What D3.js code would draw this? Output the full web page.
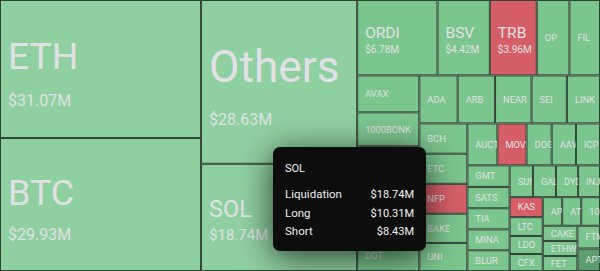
<!DOCTYPE html>
<html><head><meta charset="utf-8">
<script src="https://cdn.jsdelivr.net/npm/d3@7"></script>
<style>
html,body{margin:0;padding:0;background:#fff;overflow:hidden}
svg{display:block}
</style></head><body>
<svg id="chart" width="600" height="271"></svg>
<script>
// Coins in the treemap (sorted by liquidation, in $M)
const coins = ["ETH","BTC","Others","SOL","ORDI","BSV","TRB","OP","FIL","AVAX","1000BONK","XRP","MATIC","WLD","DOT",
  "ADA","ARB","NEAR","SEI","LINK","BCH","ETC","NFP","BAKE","UNI","AUCTION","MOVR","DOGE","AAVE","ICP",
  "GMT","SATS","TIA","MINA","BLUR","SUI","GALA","DYDX","INJ","KAS","LTC","LDO","CFX","APE","ATOM","1000PEPE",
  "CAKE","ETHW","FET","FTM","APT"];
const liquidation = [31.07,29.93,28.63,18.74,6.78,4.42,3.96,2.76,2.58,2.57,2.36,2.24,2.18,2.14,2.12,
  2.06,2.01,1.96,1.90,1.78,1.63,1.62,1.61,1.57,1.51,1.41,1.37,1.18,1.14,1.13,
  1.02,1.01,1.00,0.99,0.98,0.83,0.82,0.79,0.78,0.74,0.70,0.67,0.63,0.62,0.61,0.60,
  0.59,0.585,0.58,0.575,0.57];
// dominant side category: "long" (green), "short" (red); shade group
const side = ["longHi","longHi","longHi","longHi","long","long","short","long","long","long","long","long","long","long","long",
  "long","long","long","long","long","long","long","short","long","long","long","short","long","long","long",
  "long","long","long","long","long","long","long","long","long","short","long","long","long","long","long","long",
  "long","long","long","long","longMax"];
// Tooltip content (hovered: SOL)
const tipCoin = "SOL";
const tipRows = ["Liquidation","Long","Short"];
const tipValues = [18.74,10.31,8.43];

const W = 600, H = 271;
const svg = d3.select("#chart");
const color = d3.scaleOrdinal()
  .domain(["longHi","long","longMax","short"])
  .range(["#8fd0a1","#7bc68d","#5d9e6e","#d65f67"]);
const fmt = v => "$" + d3.format(".2f")(v) + "M";
const font = "Roboto, 'Noto Sans', sans-serif";

const data = coins.map((c,i)=>({name:c, value:liquidation[i], side:side[i]}));
const root = d3.hierarchy({children:data}).sum(d=>d.value||0).sort((a,b)=>b.value-a.value);
d3.treemap().size([W,H]).tile(d3.treemapSquarify).round(false)(root);
const leaves = root.leaves();

const defs = svg.append("defs");
const f = defs.append("filter").attr("id","shadow").attr("x","-60%").attr("y","-60%").attr("width","220%").attr("height","220%");
f.append("feDropShadow").attr("dx",0).attr("dy",6).attr("stdDeviation",17).attr("flood-color","#000").attr("flood-opacity",0.72);

const g = svg.append("g").selectAll("g").data(leaves).join("g");
g.append("clipPath").attr("id",(d,i)=>"c"+i).append("rect")
  .attr("x",d=>d.x0).attr("y",d=>d.y0).attr("width",d=>d.x1-d.x0).attr("height",d=>d.y1-d.y0);
g.append("rect")
  .attr("x",d=>d.x0+0.5).attr("y",d=>d.y0+0.5)
  .attr("width",d=>Math.max(0,d.x1-d.x0-1)).attr("height",d=>Math.max(0,d.y1-d.y0-1))
  .attr("fill",d=>color(d.data.side))
  .attr("stroke","#2e4236").attr("stroke-width",1);

function nameSize(d){ const h=d.y1-d.y0; if(d.value>=25) return h*0.27; if(d.value>=10) return 23.5; if(d.value>=3) return 15.5; return 9.3; }
function valSize(d){ if(d.value>=25) return 16; if(d.value>=10) return 15; return 10; }

const lab = g.append("g").attr("clip-path",(d,i)=>"url(#c"+i+")")
  .attr("fill","#e0e0e6").attr("font-family",font);
lab.append("text")
  .attr("x",d=>d.x0+8)
  .attr("y",d=>{const cy=(d.y0+d.y1)/2, fs=nameSize(d); return d.value>=3 ? cy : cy+fs*0.355;})
  .attr("font-size",d=>nameSize(d))
  .text(d=>d.data.name);
lab.filter(d=>d.value>=3).append("text")
  .attr("x",d=>d.x0+8)
  .attr("y",d=>(d.y0+d.y1)/2 + nameSize(d)*0.98)
  .attr("font-size",d=>valSize(d))
  .text(d=>fmt(d.value));

// Tooltip
const tip = svg.append("g").attr("transform","translate(273,147)").attr("font-family",font);
tip.append("rect").attr("width",153).attr("height",104).attr("rx",7)
  .attr("fill","#0a0a0e").attr("filter","url(#shadow)");
tip.append("text").attr("x",12).attr("y",25).attr("font-size",11).attr("fill","#f2f2f2").text(tipCoin);
tipRows.forEach((r,i)=>{
  tip.append("text").attr("x",12).attr("y",51+i*18.7).attr("font-size",11.5).attr("fill","#eeeeee").text(r);
  tip.append("text").attr("x",141).attr("y",51+i*18.7).attr("font-size",11).attr("text-anchor","end").attr("fill","#f2f2f2").text(fmt(tipValues[i]));
});
</script>
</body></html>
